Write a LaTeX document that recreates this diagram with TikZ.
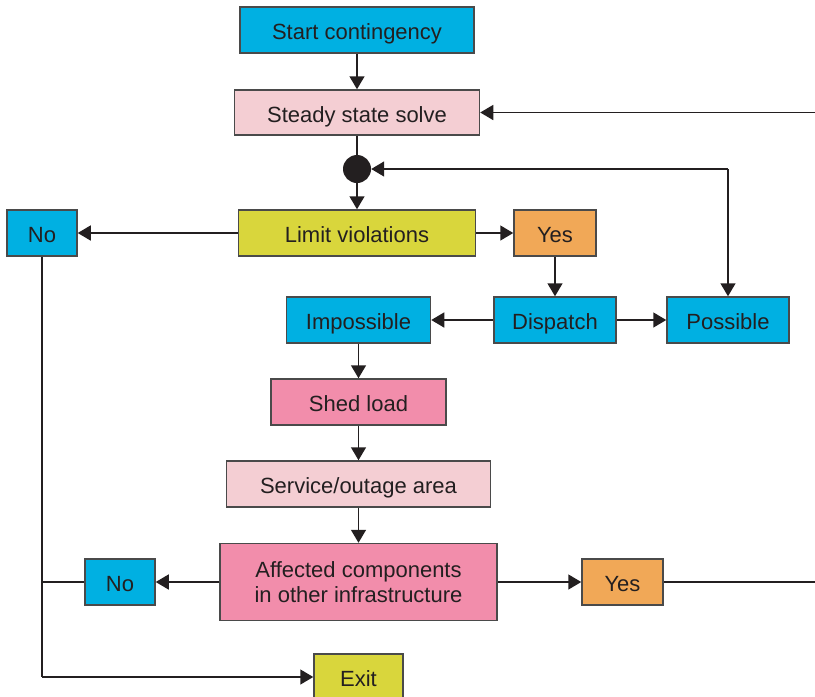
\documentclass[tikz,border=0pt]{standalone}
\usepackage{fontspec}
\setmainfont{Liberation Sans}
\usetikzlibrary{arrows.meta}
\definecolor{ink}{HTML}{231F20}
\definecolor{edge}{HTML}{4A4A4A}
\definecolor{cyanbox}{HTML}{00B0E2}
\definecolor{palepink}{HTML}{F4CED3}
\definecolor{olive}{HTML}{D9D63C}
\definecolor{orangebox}{HTML}{F1A857}
\definecolor{hotpink}{HTML}{F28DAB}
\tikzset{
  box/.style={draw=edge, line width=1.5pt, inner sep=0pt, text=ink,
    font=\fontsize{22}{25}\selectfont, text height=20.5pt, text depth=1.5pt},
  twoline/.style={draw=edge, line width=1.5pt, inner sep=0pt, text=ink,
    font=\fontsize{22}{25.5}\selectfont, align=center},
  link/.style={draw=ink, line width=1.5pt, -{Triangle[length=13pt,width=15pt]}},
  plain/.style={draw=ink, line width=1.5pt}
}
\begin{document}
\begin{tikzpicture}[x=1pt,y=-1pt]
\useasboundingbox (0,0) rectangle (815,697);
% process boxes
\node[box, fill=cyanbox, minimum width=234pt, minimum height=46pt] (start) at (357,30) {Start contingency};
\node[box, fill=palepink, minimum width=245pt, minimum height=45pt] (steady) at (357,112.5) {Steady state solve};
\node[circle, fill=ink, inner sep=0pt, minimum size=28pt] (dot) at (357,169) {};
\node[box, fill=olive, minimum width=237pt, minimum height=46pt] (limit) at (357,233) {Limit violations};
\node[box, fill=cyanbox, minimum width=70pt, minimum height=46pt] (notop) at (42,233) {No};
\node[box, fill=orangebox, minimum width=82pt, minimum height=46pt] (yestop) at (555,233) {Yes};
\node[box, fill=cyanbox, minimum width=144pt, minimum height=46pt] (imposs) at (358.5,320) {Impossible};
\node[box, fill=cyanbox, minimum width=122pt, minimum height=46pt] (dispatch) at (555,320) {Dispatch};
\node[box, fill=cyanbox, minimum width=122pt, minimum height=46pt] (poss) at (728,320) {Possible};
\node[box, fill=hotpink, minimum width=175pt, minimum height=46pt] (shed) at (358.5,402) {Shed load};
\node[box, fill=palepink, minimum width=264pt, minimum height=46pt] (service) at (358.5,484) {Service/outage area};
\node[twoline, fill=hotpink, minimum width=277pt, minimum height=77pt] (affected) at (358.5,582) {Affected components\\in other infrastructure};
\node[box, fill=cyanbox, minimum width=70pt, minimum height=46pt] (nobot) at (120,582) {No};
\node[box, fill=orangebox, minimum width=81pt, minimum height=46pt] (yesbot) at (622.5,582) {Yes};
\node[box, fill=olive, minimum width=89pt, minimum height=46pt] (exit) at (358.5,677) {Exit};
% free ends and corners
\coordinate (rightlow) at (815,582);
\coordinate (righthigh) at (815,112.5);
\coordinate (corner) at (728,169);
\coordinate (leftdown) at (42,677);
\coordinate (leftmid) at (42,582);
% connectors
\draw[link] (start) -- (steady);
\draw[plain] (steady) -- (dot);
\draw[link] (dot) -- (limit);
\draw[link] (limit) -- (notop);
\draw[link] (limit) -- (yestop);
\draw[link] (yestop) -- (dispatch);
\draw[link] (dispatch) -- (imposs);
\draw[link] (dispatch) -- (poss);
\draw[link] (corner) -- (poss);
\draw[link] (corner) -- (dot);
\draw[link] (imposs) -- (shed);
\draw[link] (shed) -- (service);
\draw[link] (service) -- (affected);
\draw[link] (affected) -- (nobot);
\draw[link] (affected) -- (yesbot);
\draw[plain] (yesbot) -- (rightlow);
\draw[link] (righthigh) -- (steady);
\draw[plain] (notop) -- (leftdown);
\draw[link] (leftdown) -- (exit);
\draw[plain] (nobot) -- (leftmid);
\end{tikzpicture}
\end{document}
